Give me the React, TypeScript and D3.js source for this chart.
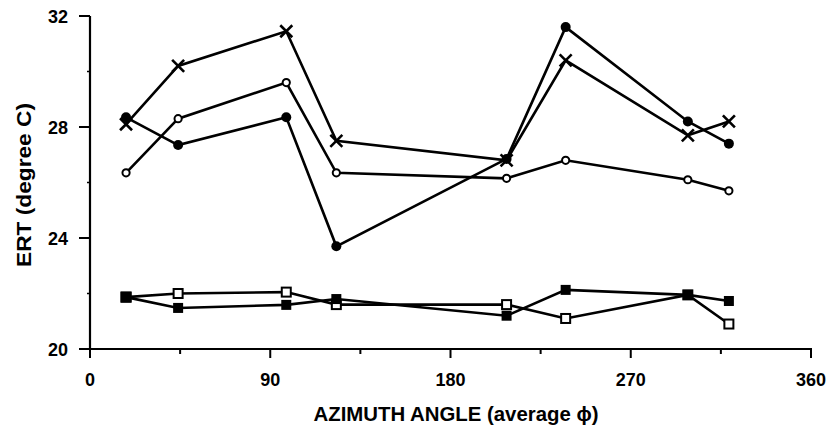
import React from "react";
import * as d3 from "d3";

const angles = [18, 44, 98, 123, 208, 237.5, 298.5, 319];
const crossSeries = [28.1, 30.2, 31.45, 27.5, 26.8, 30.4, 27.7, 28.2];
const filledCircleSeries = [28.35, 27.35, 28.35, 23.7, 26.85, 31.6, 28.2, 27.4];
const openCircleSeries = [26.35, 28.3, 29.6, 26.35, 26.15, 26.8, 26.1, 25.7];
const filledSquareSeries = [21.87, 21.48, 21.59, 21.8, 21.2, 22.13, 21.95, 21.73];
const openSquareSeries = [21.87, 22.0, 22.05, 21.6, 21.6, 21.1, 21.95, 20.9];

const xMajorTicks = [0, 90, 180, 270, 360];
const xMinorTicks = [45, 135, 225, 315];
const yMajorTicks = [20, 24, 28, 32];
const yMinorTicks = [22, 26, 30];

const W = 828;
const H = 428;
const FONT = "'Liberation Sans', Arial, Helvetica, sans-serif";

export default function App() {
  const x = d3.scaleLinear().domain([0, 360]).range([90, 811]);
  const y = d3.scaleLinear().domain([20, 32]).range([349, 16]);
  const line = d3
    .line<number>()
    .x((_, i) => x(angles[i]))
    .y((d) => y(d));

  const sw = 2.6;

  const renderLine = (vals: number[], key: string) => (
    <path key={key} d={line(vals) || ""} fill="none" stroke="#000" strokeWidth={sw} />
  );

  return (
    <svg
      width={W}
      height={H}
      style={{ position: "absolute", left: 0, top: 0, background: "#fff" }}
    >
      {/* axes */}
      <line x1={x(0)} x2={x(0)} y1={y(32)} y2={y(20) + 1} stroke="#000" strokeWidth={2.2} />
      <line x1={x(0) - 1} x2={x(360) + 1} y1={y(20)} y2={y(20)} stroke="#000" strokeWidth={2.2} />
      {yMajorTicks.map((t) => (
        <g key={"ym" + t}>
          <line x1={x(0) - 11} x2={x(0)} y1={y(t)} y2={y(t)} stroke="#000" strokeWidth={2} />
          <text
            x={68}
            y={y(t) + 7}
            textAnchor="end"
            fontFamily={FONT}
            fontWeight="bold"
            fontSize={18}
          >
            {t}
          </text>
        </g>
      ))}
      {yMinorTicks.map((t) => (
        <line key={"yn" + t} x1={x(0) - 3} x2={x(0)} y1={y(t)} y2={y(t)} stroke="#000" strokeWidth={1.5} />
      ))}
      {xMajorTicks.map((t) => (
        <g key={"xm" + t}>
          <line x1={x(t)} x2={x(t)} y1={y(20)} y2={y(20) + 9} stroke="#000" strokeWidth={2} />
          <text
            x={x(t)}
            y={386}
            textAnchor="middle"
            fontFamily={FONT}
            fontWeight="bold"
            fontSize={18}
          >
            {t}
          </text>
        </g>
      ))}
      {xMinorTicks.map((t) => (
        <line key={"xn" + t} x1={x(t)} x2={x(t)} y1={y(20)} y2={y(20) + 5} stroke="#000" strokeWidth={2} />
      ))}
      <text
        x={456}
        y={421}
        textAnchor="middle"
        fontFamily={FONT}
        fontWeight="bold"
        fontSize={20}
        textLength={285}
        lengthAdjust="spacingAndGlyphs"
      >
        AZIMUTH ANGLE (average ϕ)
      </text>
      <text
        transform={`translate(31, 185) rotate(-90)`}
        textAnchor="middle"
        fontFamily={FONT}
        fontWeight="bold"
        fontSize={20}
        textLength={164}
        lengthAdjust="spacingAndGlyphs"
      >
        ERT (degree C)
      </text>

      {/* lines */}
      {renderLine(openCircleSeries, "oc")}
      {renderLine(filledCircleSeries, "fc")}
      {renderLine(crossSeries, "cr")}
      {renderLine(openSquareSeries, "os")}
      {renderLine(filledSquareSeries, "fs")}

      {/* markers */}
      {openCircleSeries.map((v, i) => (
        <circle key={"ocm" + i} cx={x(angles[i])} cy={y(v)} r={3.6} fill="#fff" stroke="#000" strokeWidth={2} />
      ))}
      {filledCircleSeries.map((v, i) => (
        <circle key={"fcm" + i} cx={x(angles[i])} cy={y(v)} r={5} fill="#000" />
      ))}
      {crossSeries.map((v, i) => {
        const cx = x(angles[i]);
        const cy = y(v);
        const s = 6;
        return (
          <g key={"crm" + i} stroke="#000" strokeWidth={2.6}>
            <line x1={cx - s} y1={cy - s} x2={cx + s} y2={cy + s} />
            <line x1={cx - s} y1={cy + s} x2={cx + s} y2={cy - s} />
          </g>
        );
      })}
      {openSquareSeries.map((v, i) => (
        <rect key={"osm" + i} x={x(angles[i]) - 4.5} y={y(v) - 4.5} width={9} height={9} fill="#fff" stroke="#000" strokeWidth={2} />
      ))}
      {filledSquareSeries.map((v, i) => (
        <rect
          key={"fsm" + i}
          x={x(angles[i]) - (i === 0 ? 5.5 : 5)}
          y={y(v) - (i === 0 ? 5.5 : 5)}
          width={i === 0 ? 11 : 10}
          height={i === 0 ? 11 : 10}
          fill="#000"
        />
      ))}
    </svg>
  );
}
